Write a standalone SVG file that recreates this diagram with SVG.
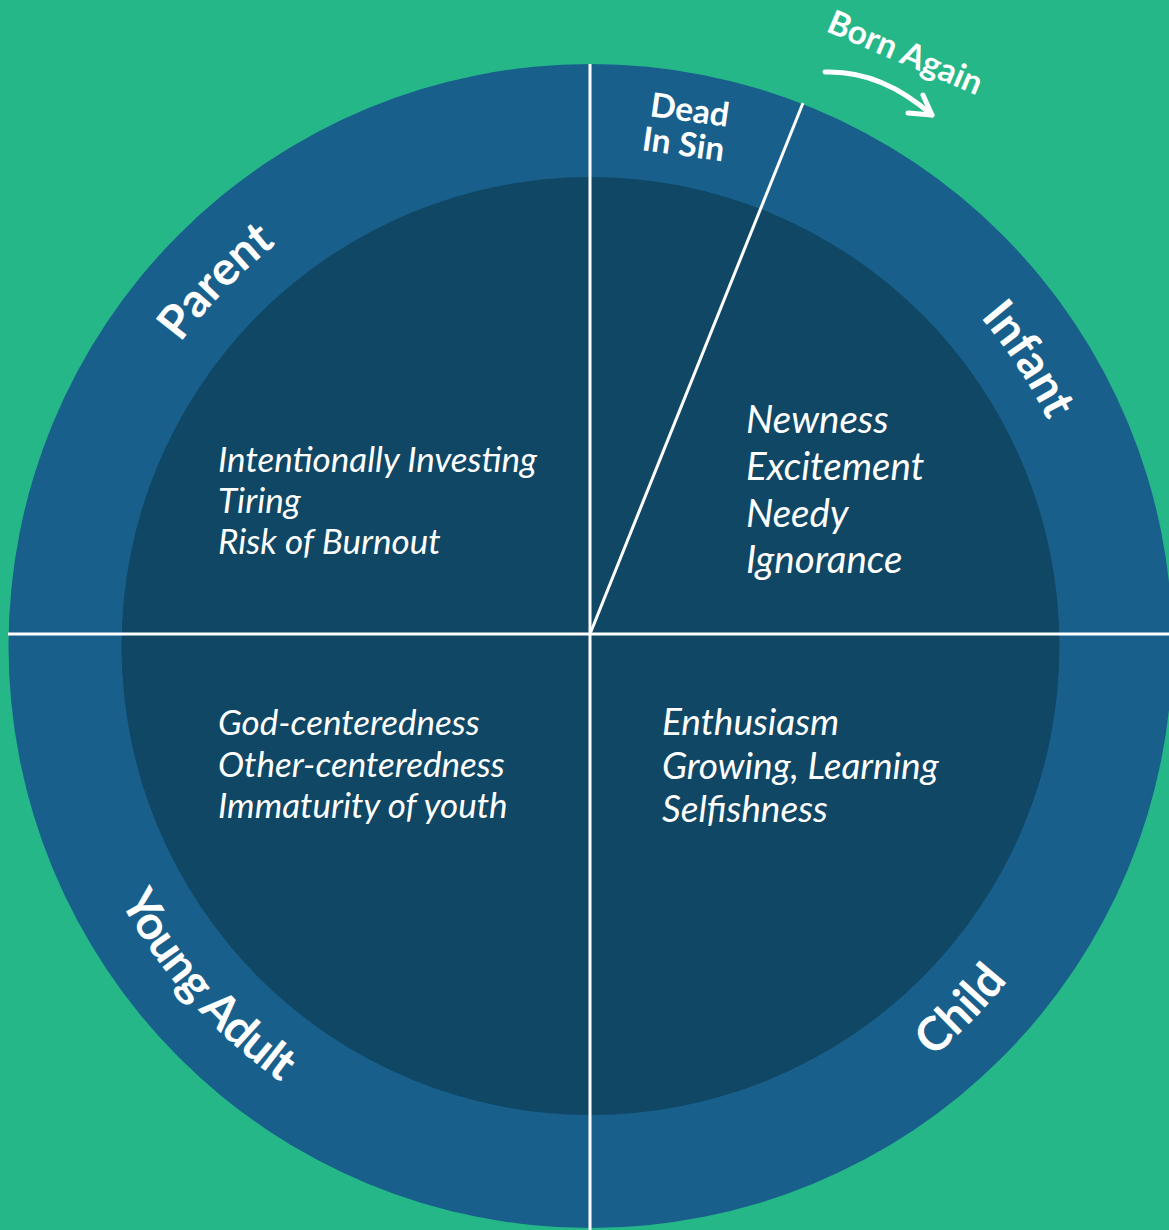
<svg xmlns="http://www.w3.org/2000/svg" xmlns:xlink="http://www.w3.org/1999/xlink" width="1169" height="1230" viewBox="0 0 1169 1230">
  <style>
    .ring-label { font-family: Lato, "Open Sans", "Liberation Sans", sans-serif; font-weight: 700; font-size: 47px; fill: #ffffff; }
    .small-label { font-family: Lato, "Open Sans", "Liberation Sans", sans-serif; font-weight: 700; font-size: 33.5px; fill: #ffffff; }
    .body { font-family: Lato, "Open Sans", "Liberation Sans", sans-serif; font-style: italic; font-weight: 400; font-size: 35px; fill: #ffffff; }
    .body-lg { font-size: 38.5px; }
    .body-md { font-size: 37px; }
    .divider { stroke: #ffffff; stroke-width: 3; fill: none; }
    .arrow { stroke: #ffffff; stroke-width: 5; fill: none; stroke-linecap: round; stroke-linejoin: round; }
  </style>
  <defs>
    <path id="arc-parent" d="M 83.1 697.5 A 510 510 0 0 1 627.9 137.4"/>
    <path id="arc-infant" d="M 650.9 139.6 A 510 510 0 0 1 1078.7 793.4"/>
    <path id="arc-child" d="M 548.5 1179.4 A 535 535 0 0 0 1123.0 594.7"/>
    <path id="arc-young" d="M 60.7 571.5 A 535 535 0 0 0 609.2 1180.7"/>
  </defs>
  <rect x="0" y="0" width="1169" height="1230" fill="#25B788"/>
  <g id="wheel">
    <circle cx="590.5" cy="646" r="582" fill="#18608B"/>
    <circle cx="590.5" cy="646" r="469" fill="#0F4765"/>
  </g>
  <g id="connectors">
    <line class="divider" x1="590" y1="64" x2="590" y2="1230"/>
    <line class="divider" x1="8" y1="634" x2="1169" y2="634"/>
    <line class="divider" x1="590" y1="634" x2="803" y2="103"/>
    <path class="arrow" d="M 825 72 Q 881 70 932 115"/>
    <path class="arrow" d="M 923 95 L 932 115 L 908 113"/>
  </g>
  <g id="parent">
    <text class="ring-label" font-size="48" text-anchor="middle"><textPath xlink:href="#arc-parent" startOffset="50%">Parent</textPath></text>
    <text class="body" x="218" y="472">Intentionally Investing</text>
    <text class="body" x="218" y="513">Tiring</text>
    <text class="body" x="218" y="554">Risk of Burnout</text>
  </g>
  <g id="infant">
    <text class="ring-label" text-anchor="middle"><textPath xlink:href="#arc-infant" startOffset="50%">Infant</textPath></text>
    <text class="body body-lg" x="746" y="433">Newness</text>
    <text class="body body-lg" x="746" y="480">Excitement</text>
    <text class="body body-lg" x="746" y="527">Needy</text>
    <text class="body body-lg" x="746" y="573">Ignorance</text>
  </g>
  <g id="child">
    <text class="ring-label" text-anchor="middle"><textPath xlink:href="#arc-child" startOffset="50%">Child</textPath></text>
    <text class="body body-md" x="662" y="735">Enthusiasm</text>
    <text class="body body-md" x="662" y="779">Growing, Learning</text>
    <text class="body body-md" x="662" y="822">Selfishness</text>
  </g>
  <g id="young-adult">
    <text class="ring-label" font-size="44" letter-spacing="-1" text-anchor="middle"><textPath xlink:href="#arc-young" startOffset="49.5%">Young Adult</textPath></text>
    <text class="body" x="218" y="735">God-centeredness</text>
    <text class="body" x="218" y="777">Other-centeredness</text>
    <text class="body" x="218" y="818">Immaturity of youth</text>
  </g>
  <g id="dead-in-sin">
    <text class="small-label" transform="translate(649 116) rotate(8)">Dead</text>
    <text class="small-label" transform="translate(641 150) rotate(8)">In Sin</text>
  </g>
  <g id="born-again">
    <text class="small-label" font-size="31" transform="translate(825 31) rotate(23)">Born Again</text>
  </g>
</svg>
